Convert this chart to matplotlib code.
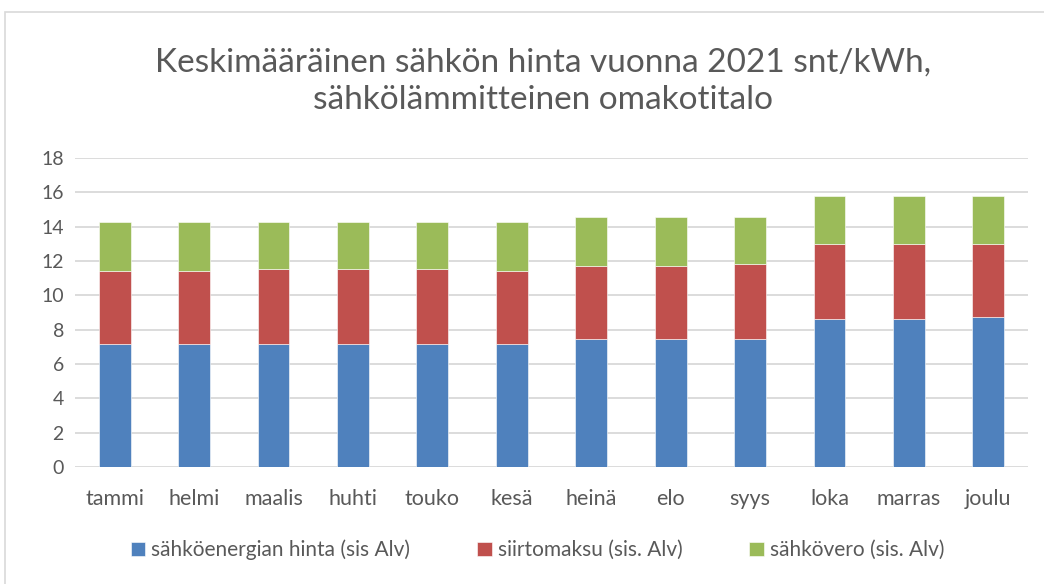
import matplotlib.pyplot as plt
from matplotlib.patches import Rectangle
import numpy as np

kuukaudet = ["tammi", "helmi", "maalis", "huhti", "touko", "kesä",
             "heinä", "elo", "syys", "loka", "marras", "joulu"]
energia = [7.16, 7.16, 7.16, 7.16, 7.16, 7.16, 7.47, 7.47, 7.47, 8.65, 8.65, 8.74]
siirto = [4.27, 4.27, 4.35, 4.35, 4.35, 4.27, 4.25, 4.25, 4.33, 4.34, 4.34, 4.25]
vero = [2.84, 2.84, 2.76, 2.76, 2.76, 2.84, 2.84, 2.84, 2.76, 2.77, 2.77, 2.77]

sarjat = ["sähköenergian hinta (sis Alv)", "siirtomaksu (sis. Alv)", "sähkövero (sis. Alv)"]
varit = ["#4f81bd", "#c0504d", "#9bbb59"]

plt.rcParams['font.family'] = ['Lato', 'DejaVu Sans']
harmaa = "#595959"

fig = plt.figure(figsize=(10.44, 5.84), dpi=100)
fig.patches.append(Rectangle((5 / 1044, -0.01), 1.0, 1 - 12 / 584 + 0.01,
                             transform=fig.transFigure, fill=False,
                             edgecolor="#d9d9d9", lw=1.2))
ax = fig.add_axes([75 / 1044, 1 - 467 / 584, (1028 - 75) / 1044, (467 - 158) / 584])

x = np.arange(len(kuukaudet))
ala = np.zeros(len(kuukaudet))
for arvot, nimi, vari in zip([energia, siirto, vero], sarjat, varit):
    ax.bar(x, arvot, 0.40, bottom=ala, color=vari, label=nimi,
           edgecolor="white", linewidth=0.4, zorder=3)
    ala = ala + np.array(arvot)

ax.set_xlim(-0.5, len(kuukaudet) - 0.5)
ax.set_ylim(0, 18)
ax.set_yticks(range(0, 19, 2))
ax.set_xticks(x)
ax.set_xticklabels(kuukaudet)
ax.grid(axis="y", color="#d9d9d9", lw=1.3, zorder=0)
for s in ax.spines.values():
    s.set_visible(False)
ax.tick_params(length=0, labelsize=14, colors=harmaa, pad=8)
ax.tick_params(axis="x", labelsize=15.5, pad=16)

fig.text(0.52, 1 - 81 / 584, "Keskimääräinen sähkön hinta vuonna 2021 snt/kWh,\nsähkölämmitteinen omakotitalo",
         ha="center", va="center", fontsize=24, color=harmaa, linespacing=1.3)

fig.legend(loc="center", bbox_to_anchor=(0.515, 1 - 550 / 584), ncol=3,
           frameon=False, fontsize=15, labelcolor=harmaa, handlelength=0.7,
           handleheight=0.7, handletextpad=0.3, columnspacing=3.2)

fig.savefig("out.png", dpi=100)
